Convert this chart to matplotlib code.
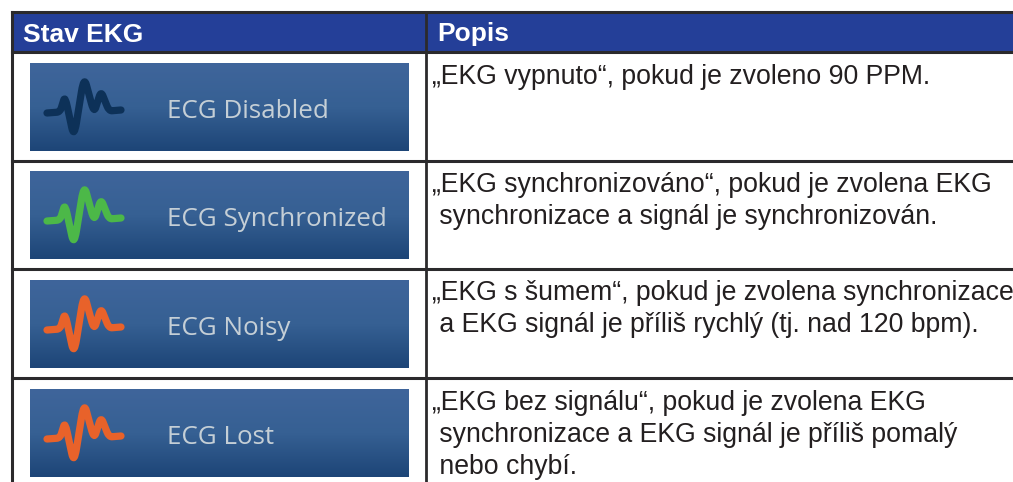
import numpy as np
import matplotlib
matplotlib.use('Agg')
from matplotlib import pyplot as plt
from matplotlib.path import Path
from matplotlib.patches import PathPatch, Rectangle
from matplotlib.colors import LinearSegmentedColormap

headers = ['Stav EKG', 'Popis']
states = ['ECG Disabled', 'ECG Synchronized', 'ECG Noisy', 'ECG Lost']
icon_colors = ['#0d3158', '#4cb848', '#e8622a', '#e8622a']
descriptions = [
	'„EKG vypnuto“, pokud je zvoleno 90 PPM.',
	'„EKG synchronizováno“, pokud je zvolena EKG\n synchronizace a signál je synchronizován.',
	'„EKG s šumem“, pokud je zvolena synchronizace\n a EKG signál je příliš rychlý (tj. nad 120 bpm).',
	'„EKG bez signálu“, pokud je zvolena EKG\n synchronizace a EKG signál je příliš pomalý\n nebo chybí.',
]

# icon outline, offsets from the panel's top left corner
trace_x = [17, 30, 35, 44, 54, 64, 71, 79, 91]
trace_y = [50, 49, 33, 75, 13, 50, 28, 48, 47]

row_lines = [52, 161, 269, 378]
panel_tops = [63, 171, 280, 389]
panel_h = 88

fig = plt.figure(figsize=(10.13, 4.82), dpi=100)
ax = fig.add_axes([0, 0, 1, 1])
ax.set_xlim(0, 1013)
ax.set_ylim(482, 0)
ax.axis('off')

def draw_trace(x0, y0, color):
	xs = [x0 + v for v in trace_x]
	ys = [y0 + v for v in trace_y]
	verts = [(xs[0], ys[0])]
	codes = [Path.MOVETO]
	# straight runs with a small curve round each corner
	for i in range(1, len(xs) - 1):
		a = 0.25
		verts.append((xs[i] + (xs[i-1] - xs[i]) * a, ys[i] + (ys[i-1] - ys[i]) * a))
		codes.append(Path.LINETO)
		verts += [(xs[i], ys[i]), (xs[i] + (xs[i+1] - xs[i]) * a, ys[i] + (ys[i+1] - ys[i]) * a)]
		codes += [Path.CURVE3, Path.CURVE3]
	verts.append((xs[-1], ys[-1]))
	codes.append(Path.LINETO)
	ax.add_patch(PathPatch(Path(verts, codes), fill=False, edgecolor=color, lw=5.2,
		capstyle='round', joinstyle='round', zorder=4))

panel_cmap = LinearSegmentedColormap.from_list('panel', ['#3f659b', '#366093', '#1d4577'])
grad = np.linspace(0, 1, 100).reshape(-1, 1)

# header
ax.add_patch(Rectangle((12, 12), 1001, 40, fc='#243f98', ec='none', zorder=1))
ax.text(23, 34.5, headers[0], color='white', fontsize=19, fontweight='bold',
	family='Liberation Sans', va='center', zorder=5)
ax.text(437.5, 34.5, headers[1], color='white', fontsize=19, fontweight='bold',
	family='Liberation Sans', va='center', zorder=5)

for i in range(len(states)):
	top = panel_tops[i]
	ax.imshow(grad, cmap=panel_cmap, extent=(30, 409, top + panel_h, top), aspect='auto', zorder=2)
	draw_trace(30, top, icon_colors[i])
	ax.text(167, top + 48.5, states[i], color='#c5cfd6', fontsize=18.7, family='Open Sans',
		va='center', zorder=5)
	ax.text(432, top + 0.5, descriptions[i], color='#231f20', fontsize=19.2,
		family='Liberation Sans', va='top', linespacing=1.3, zorder=5)

# table rules
ax.plot([12, 1013], [12, 12], color='#2b2a2c', lw=2.2, zorder=6)
for y in row_lines:
	ax.plot([12, 1013], [y, y], color='#2b2a2c', lw=2.2, zorder=6)
ax.plot([12, 12], [12, 482], color='#2b2a2c', lw=2.2, zorder=6)
ax.plot([426, 426], [12, 482], color='#2b2a2c', lw=2.0, zorder=6)

ax.set_xlim(0, 1013)
ax.set_ylim(482, 0)
fig.savefig('out.png', dpi=100)
